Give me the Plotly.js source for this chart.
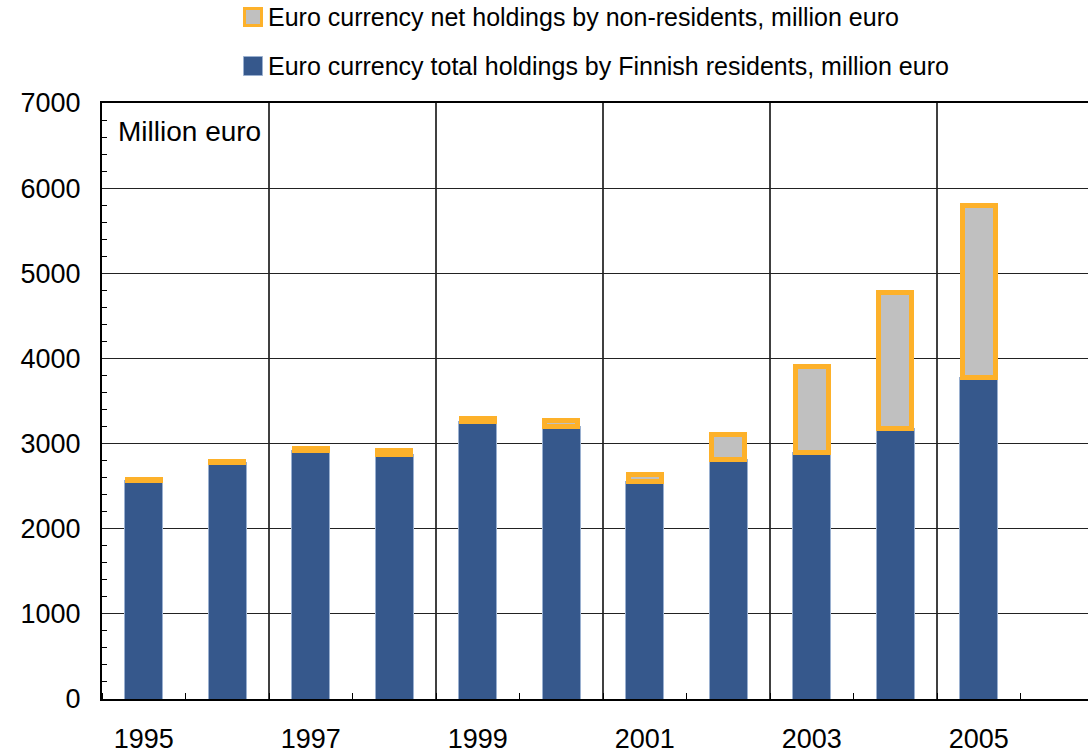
<!DOCTYPE html>
<html>
<head>
<meta charset="utf-8">
<script src="https://cdn.plot.ly/plotly-3.0.1.min.js"></script>
<style>
html, body { margin:0; padding:0; overflow:hidden; background:#fff; }
#chart { width:1104px; height:753px; }
</style>
</head>
<body>
<div id="chart"></div>
<script>
// Data
const years = [1995, 1996, 1997, 1998, 1999, 2000, 2001, 2002, 2003, 2004, 2005];
const finnishResidents = [2572, 2775, 2924, 2872, 3259, 3197, 2549, 2814, 2892, 3177, 3780];
const nonResidentsNet = [5, 15, 19, 47, 35, 79, 82, 297, 1017, 1603, 2016];
const labelYears = [1995, 1997, 1999, 2001, 2003, 2005];
const gridYears = [1996.5, 1998.5, 2000.5, 2002.5, 2004.5];
const seriesNames = [
  'Euro currency total holdings by Finnish residents, million euro',
  'Euro currency net holdings by non-residents, million euro'
];

const FONT = '"Liberation Sans", Arial, sans-serif';
const BLUE = '#36588C', BLUE_EDGE = '#9AB0D0', GREY = '#C0C0C0', ORANGE = '#FDB12A';

// Page geometry (pixels) used for the hand-made legend
const M = { l: 102, r: 0, t: 103, b: 54 };
const W = 1104, H = 753;
const PW = W - M.l - M.r, PH = H - M.t - M.b;
const px2x = p => (p - M.l) / PW;
const px2y = p => (H - M.b - p) / PH;

const traces = [
  {
    type: 'bar', name: seriesNames[0], x: years, y: finnishResidents,
    width: 0.455,
    marker: { color: BLUE, line: { color: BLUE_EDGE, width: 1 } },
    hoverinfo: 'x+y'
  },
  {
    type: 'bar', name: seriesNames[1], x: years, y: nonResidentsNet,
    width: 0.395,
    marker: { color: GREY, line: { color: ORANGE, width: 5 } },
    hoverinfo: 'x+y'
  }
];

// Legend: order top-to-bottom = non-residents, Finnish residents
const legendItems = [
  { name: seriesNames[1], fill: GREY, edge: ORANGE, edgeW: 3, cy: 17 },
  { name: seriesNames[0], fill: BLUE, edge: BLUE_EDGE, edgeW: 1, cy: 66 }
];
const legendShapes = legendItems.map(it => {
  const half = 10 - it.edgeW / 2;
  return {
    type: 'rect', xref: 'paper', yref: 'paper',
    x0: px2x(253 - half), x1: px2x(253 + half),
    y0: px2y(it.cy + half), y1: px2y(it.cy - half),
    fillcolor: it.fill, line: { color: it.edge, width: it.edgeW }
  };
});
const legendTexts = legendItems.map(it => ({
  xref: 'paper', yref: 'paper', x: px2x(266), y: px2y(it.cy),
  xanchor: 'left', yanchor: 'middle', showarrow: false,
  text: it.name, font: { family: FONT, size: 25, color: '#000' }
}));

const gridShapes = gridYears.map(g => ({
  type: 'line', xref: 'x', yref: 'paper', x0: g, x1: g, y0: 0, y1: 1,
  line: { color: '#000', width: 1.5 }, layer: 'below'
}));

const layout = {
  width: W, height: H,
  margin: { l: M.l, r: M.r, t: M.t, b: M.b, autoexpand: false },
  paper_bgcolor: '#ffffff', plot_bgcolor: '#ffffff',
  barmode: 'stack',
  font: { family: FONT, color: '#000', size: 27 },
  showlegend: false,
  xaxis: {
    type: 'linear', range: [1994.5, 2006.5],
    tickmode: 'array', tickvals: labelYears, ticktext: labelYears.map(String),
    ticks: '', showgrid: false, zeroline: false,
    showline: true, linecolor: '#000', linewidth: 2, mirror: true,
    ticklabelstandoff: 15,
    tickfont: { family: FONT, size: 27, color: '#000' },
    minor: { tick0: 1994.5, dtick: 1, ticks: 'inside', ticklen: 6, tickcolor: '#000', tickwidth: 1, showgrid: false }
  },
  yaxis: {
    range: [0, 7000], tickmode: 'linear', tick0: 0, dtick: 1000,
    ticks: '', showgrid: true, gridcolor: '#222', gridwidth: 1,
    zeroline: false, showline: true, linecolor: '#000', linewidth: 2,
    ticklabelstandoff: 14,
    tickfont: { family: FONT, size: 27, color: '#000' },
    minor: { tick0: 0, dtick: 200, ticks: 'inside', ticklen: 5, tickcolor: '#000', tickwidth: 1, showgrid: false }
  },
  shapes: gridShapes.concat(legendShapes),
  annotations: [
    {
      xref: 'paper', yref: 'paper', x: 0.014, y: 0.952, xanchor: 'left', yanchor: 'middle',
      text: 'Million euro', showarrow: false,
      font: { family: FONT, size: 28, color: '#000' }
    }
  ].concat(legendTexts)
};

Plotly.newPlot('chart', traces, layout, { displayModeBar: false, staticPlot: true });
</script>
</body>
</html>
